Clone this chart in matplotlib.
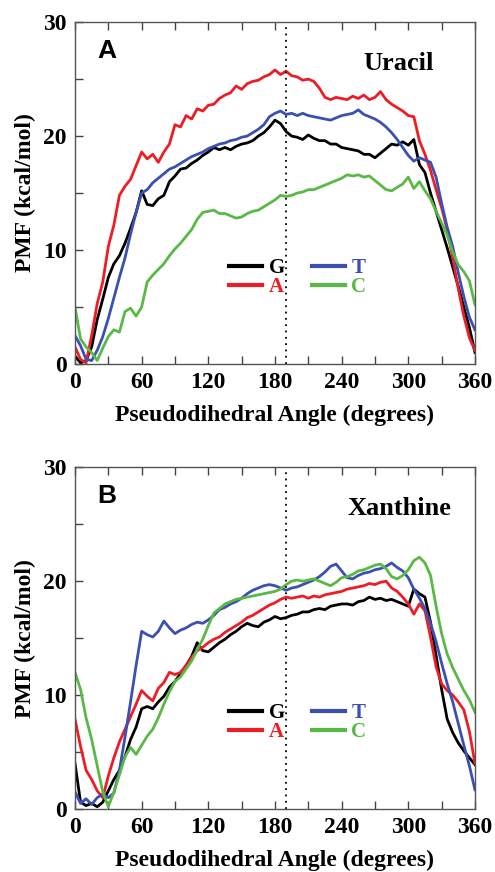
import numpy as np
import matplotlib
matplotlib.use("Agg")
import matplotlib.pyplot as plt
from matplotlib.ticker import MultipleLocator

# ---------------------------------------
# Данные (шаг 5 градусов)
# ---------------------------------------
angle = np.arange(0, 361, 5)

uracil_G = [0.7, 0.1, 0.3, 1.5, 3.9, 5.7, 7.6, 8.8, 9.5, 10.6, 11.9, 13.3, 15.2, 14.0, 13.9,
            14.5, 14.8, 16.0, 16.5, 17.1, 17.2, 17.6, 17.9, 18.3, 18.6, 19.0, 18.8, 19.0, 18.8,
            19.1, 19.3, 19.4, 19.6, 20.0, 20.3, 20.8, 21.4, 21.1, 20.4, 20.0, 19.9, 19.7, 20.1,
            19.8, 19.6, 19.6, 19.3, 19.3, 19.0, 18.9, 18.8, 18.7, 18.4, 18.4, 18.1, 18.5, 18.9,
            19.3, 19.2, 19.5, 19.2, 19.7, 17.5, 16.8, 15.0, 13.4, 11.8, 10.2, 8.5, 6.8, 5.0, 3.2, 1.0]
uracil_A = [1.5, 0.4, 0.1, 2.5, 5.3, 7.2, 10.3, 12.2, 14.8, 15.6, 16.2, 17.4, 18.6, 18.0, 18.4,
            17.7, 18.6, 19.3, 21.0, 20.8, 21.8, 21.5, 22.4, 22.2, 22.7, 22.8, 23.3, 23.6, 23.8,
            24.4, 24.1, 24.6, 24.8, 24.9, 25.2, 25.4, 25.8, 25.4, 25.7, 25.3, 25.2, 24.9, 25.0,
            24.8, 24.2, 23.4, 23.2, 23.4, 23.3, 23.2, 23.5, 23.3, 23.6, 23.2, 23.4, 23.9, 23.2,
            22.8, 22.5, 22.2, 21.8, 21.7, 19.6, 18.4, 17.0, 15.3, 13.7, 11.8, 9.3, 6.6, 4.2, 2.3, 1.2]
uracil_T = [2.5, 1.6, 0.4, 0.3, 1.2, 2.4, 4.0, 5.8, 7.6, 9.3, 11.4, 13.3, 15.0, 15.3, 15.9,
            16.3, 16.7, 17.1, 17.3, 17.6, 17.9, 18.2, 18.4, 18.6, 18.9, 19.1, 19.3, 19.4, 19.6,
            19.7, 19.9, 20.0, 20.3, 20.6, 21.0, 21.7, 22.0, 22.2, 21.9, 22.0, 21.8, 22.0, 21.8,
            21.7, 21.6, 21.5, 21.4, 21.6, 21.8, 21.9, 22.0, 22.3, 21.9, 21.7, 21.5, 21.2, 20.8,
            20.3, 19.7, 19.0, 18.3, 17.8, 18.1, 17.9, 17.7, 16.4, 14.1, 12.0, 10.3, 8.0, 5.9, 4.1, 3.0]
uracil_C = [5.0, 2.2, 1.5, 1.0, 0.3, 1.4, 2.4, 3.0, 2.8, 4.6, 4.9, 4.2, 5.0, 7.2, 7.8,
            8.3, 8.8, 9.5, 10.1, 10.6, 11.2, 11.8, 12.7, 13.3, 13.4, 13.5, 13.2, 13.2, 13.0,
            12.8, 12.9, 13.2, 13.4, 13.5, 13.8, 14.1, 14.4, 14.8, 14.7, 14.8, 15.0, 15.1, 15.3,
            15.3, 15.5, 15.7, 15.9, 16.1, 16.3, 16.6, 16.5, 16.6, 16.4, 16.5, 16.1, 15.7, 15.3,
            15.2, 15.5, 15.8, 16.4, 15.4, 16.0, 15.2, 14.5, 13.4, 12.4, 11.3, 9.8, 8.7, 8.1, 7.3, 5.2]

xanth_G = [4.0, 0.6, 0.3, 0.5, 0.2, 0.6, 1.6, 2.6, 3.4, 4.6, 6.1, 7.2, 8.8, 9.0, 8.8,
           9.4, 9.9, 10.7, 11.2, 11.9, 12.6, 13.4, 14.6, 13.9, 13.8, 14.2, 14.6, 14.9, 15.3,
           15.6, 16.0, 16.3, 16.1, 16.0, 16.4, 16.6, 16.9, 16.7, 16.8, 17.0, 17.1, 17.3, 17.3,
           17.5, 17.6, 17.5, 17.8, 17.9, 18.0, 18.0, 17.9, 18.2, 18.3, 18.6, 18.4, 18.5, 18.3,
           18.4, 18.2, 18.0, 17.8, 19.3, 18.9, 18.6, 16.4, 13.5, 10.5, 7.9, 6.7, 5.8, 5.1, 4.5, 3.9]
xanth_A = [7.9, 5.5, 3.4, 2.6, 1.6, 1.0, 2.9, 4.5, 5.9, 7.0, 8.1, 9.2, 10.4, 9.9, 9.5,
           10.6, 11.1, 12.0, 11.8, 12.0, 12.6, 13.3, 13.9, 14.2, 14.6, 14.9, 15.1, 15.5, 15.8,
           16.1, 16.4, 16.8, 17.0, 17.3, 17.6, 17.9, 18.1, 18.4, 18.6, 18.5, 18.6, 18.7, 18.5,
           18.7, 18.6, 18.8, 18.9, 19.0, 19.1, 19.3, 19.4, 19.5, 19.6, 19.8, 19.7, 19.9, 20.0,
           19.4, 19.1, 18.6, 18.0, 17.1, 18.0, 17.4, 15.1, 12.5, 11.0, 10.4, 10.0, 9.4, 8.7, 6.8, 4.0]
xanth_T = [1.5, 0.5, 0.9, 0.4, 1.0, 1.3, 1.0, 1.4, 3.4, 6.3, 9.4, 12.6, 15.6, 15.3, 15.1,
           15.6, 16.5, 15.9, 15.4, 15.7, 15.9, 16.2, 16.4, 16.3, 16.6, 17.0, 17.5, 17.7, 18.0,
           18.2, 18.5, 18.9, 19.2, 19.4, 19.6, 19.7, 19.6, 19.4, 19.2, 19.4, 19.5, 19.7, 19.9,
           20.1, 20.4, 20.8, 21.3, 21.5, 20.9, 20.3, 20.2, 20.5, 20.7, 20.8, 21.0, 21.1, 21.3,
           21.6, 21.2, 20.9, 20.3, 19.3, 18.5, 17.6, 16.3, 14.7, 12.8, 11.0, 9.4, 7.5, 5.6, 3.8, 1.7]
xanth_C = [12.0, 10.5, 8.0, 6.1, 3.8, 1.5, 0.2, 1.5, 3.0, 4.6, 5.4, 4.8, 5.6, 6.4, 7.0,
           8.0, 9.2, 10.3, 11.2, 11.6, 12.3, 13.0, 14.0, 14.9, 16.1, 17.2, 17.6, 18.0, 18.2,
           18.4, 18.5, 18.6, 18.7, 18.8, 18.9, 19.0, 19.1, 19.3, 19.7, 20.0, 20.1, 20.0, 20.1,
           20.2, 20.0, 19.8, 19.6, 19.9, 20.3, 20.4, 20.6, 20.9, 21.0, 21.2, 21.4, 21.5, 21.1,
           20.4, 20.2, 20.5, 21.0, 21.8, 22.1, 21.6, 20.5, 17.8, 15.4, 13.6, 12.4, 11.4, 10.4, 9.6, 8.5]

bases = ['G', 'A', 'T', 'C']
colors = ['black', '#ee1c24', '#3b50b0', '#5ab946']
panels = [
    ('A', 'Uracil', [uracil_G, uracil_A, uracil_T, uracil_C], 0.5826),
    ('B', 'Xanthine', [xanth_G, xanth_A, xanth_T, xanth_C], 0.0722),
]
ref_angle = 190

serif = 'Liberation Serif'
fig = plt.figure(figsize=(4.95, 8.72), dpi=100)

for letter, name, series, bottom in panels:
    ax = fig.add_axes([0.1515, bottom, 0.808, 0.392])
    lines = []
    for y, c, b in zip(series, colors, bases):
        ln, = ax.plot(angle, y, color=c, lw=2.0, label=b)
        lines.append(ln)
    ax.axvline(ref_angle, color='black', ls=(0, (1, 2.5)), lw=1.3)

    ax.set_xlim(0, 360)
    ax.set_ylim(0, 30)
    ax.xaxis.set_major_locator(MultipleLocator(60))
    ax.xaxis.set_minor_locator(MultipleLocator(30))
    ax.yaxis.set_major_locator(MultipleLocator(10))
    ax.yaxis.set_minor_locator(MultipleLocator(5))
    ax.tick_params(which='both', direction='in', top=True, right=False,
                   width=1.0, color='#444444')
    ax.tick_params(which='major', length=6, pad=6)
    ax.tick_params(which='minor', length=6)
    for s in ax.spines.values():
        s.set_color('#555555')
        s.set_linewidth(1.0)
    for lab in ax.get_xticklabels() + ax.get_yticklabels():
        lab.set_fontfamily(serif)
        lab.set_fontweight('bold')
        lab.set_fontsize(17)

    ax.set_xlabel('Pseudodihedral Angle (degrees)', fontfamily=serif,
                  fontweight='bold', fontsize=17)
    ax.set_ylabel('PMF (kcal/mol)', fontfamily=serif, fontweight='bold', fontsize=17)
    ax.xaxis.set_label_coords(0.5, -0.12)
    ax.yaxis.set_label_coords(-0.098, 0.5)

    ax.text(0.055, 0.915, letter, transform=ax.transAxes, fontfamily='Liberation Sans',
            fontweight='bold', fontsize=19, ha='left', va='center')
    ax.text(0.81, 0.88, name, transform=ax.transAxes, fontfamily=serif,
            fontweight='bold', fontsize=19, ha='center', va='center')

    leg = ax.legend(handles=lines, ncol=2, loc='upper left',
                    bbox_to_anchor=(0.385, 0.31), frameon=False,
                    prop={'family': serif, 'weight': 'bold', 'size': 15},
                    handlelength=1.6, handletextpad=0.3, columnspacing=1.3,
                    labelspacing=-0.05, borderpad=0, borderaxespad=0)
    for txt, c in zip(leg.get_texts(), colors):
        txt.set_color(c)
    for h in leg.get_lines():
        h.set_linewidth(3)

fig.savefig('out.png', dpi=100)
